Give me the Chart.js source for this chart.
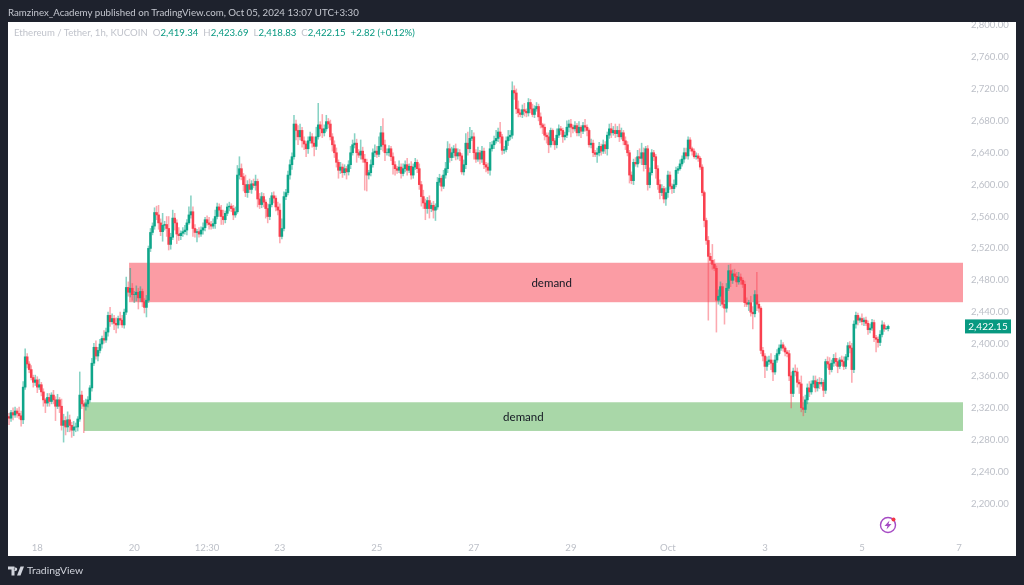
<!DOCTYPE html>
<html><head><meta charset="utf-8">
<script src="https://cdn.jsdelivr.net/npm/chart.js@4"></script>
<style>
html,body{margin:0;padding:0;width:1024px;height:585px;overflow:hidden;background:#1e222d}
canvas{position:absolute;left:0;top:0}
.t{position:absolute;white-space:nowrap;font-family:Lato,sans-serif}
#pub{left:8px;top:6px;font-size:9.7px;color:#c4c7cf}
#leg{left:14px;top:27px;font-size:9.6px;color:#c0c3cb}
#leg b{font-weight:400;color:#089981}
#leg i{font-style:normal;margin-left:5px}
#brand{left:27px;top:564px;font-size:10.4px;color:#d1d4dc}
svg{position:absolute}
</style></head><body>
<canvas id="c" width="1024" height="585"></canvas>
<div class="t" id="pub">Ramzinex_Academy published on TradingView.com, Oct 05, 2024 13:07 UTC+3:30</div>
<div class="t" id="leg">Ethereum / Tether, 1h, KUCOIN<i>O</i><b>2,419.34</b><i>H</i><b>2,423.69</b><i>L</i><b>2,418.83</b><i>C</i><b>2,422.15</b><i></i><b>+2.82 (+0.12%)</b></div>
<svg style="left:8px;top:566px" width="16" height="10" viewBox="0 0 32 20"><path fill="#d1d4dc" d="M0 1h13v18H7V7H0zM25 1h7l-7 18h-7zM15 3a3.4 3.4 0 1 0 .01 0z"/></svg>
<div class="t" id="brand">TradingView</div>
<svg style="left:878px;top:515px" width="20" height="20" viewBox="0 0 20 20"><circle cx="10" cy="10" r="7.5" fill="none" stroke="#a64bc4" stroke-width="1.4"/><path fill="#a64bc4" d="M11.5 5.5 6.5 11h3l-1 3.6L13.5 9h-3z"/><circle cx="15.5" cy="4.5" r="2" fill="#f23645"/></svg>
<script>
const closes = [
2307,2314,2311,2316,2313,2310,2305,2346,2384,2375,2368,2358,2352,2355,2346,2349,2340,2330,2326,2333,
2328,2336,2330,2322,2330,2322,2298,2304,2296,2305,2298,2292,2296,2296,2306,2336,2325,2322,2325,2330,
2345,2376,2396,2385,2392,2400,2407,2405,2415,2436,2428,2432,2426,2424,2432,2430,2424,2440,2471,2465,
2470,2462,2462,2465,2458,2466,2453,2446,2455,2520,2540,2548,2565,2562,2552,2541,2549,2550,2545,2525,
2534,2558,2552,2538,2536,2539,2541,2543,2552,2562,2566,2545,2540,2541,2538,2543,2546,2556,2552,2550,
2548,2551,2560,2572,2568,2560,2556,2564,2572,2573,2570,2562,2566,2612,2620,2610,2600,2590,2600,2594,
2601,2599,2604,2582,2575,2585,2578,2570,2560,2575,2586,2583,2572,2568,2535,2545,2585,2590,2612,2625,
2635,2676,2668,2660,2668,2655,2651,2645,2655,2660,2652,2648,2660,2675,2670,2665,2670,2679,2676,2660,
2650,2640,2628,2618,2622,2615,2620,2616,2625,2640,2650,2652,2640,2637,2642,2632,2628,2612,2615,2625,
2640,2642,2638,2648,2665,2650,2640,2640,2645,2635,2625,2620,2618,2622,2614,2620,2625,2618,2623,2612,
2622,2628,2620,2600,2585,2577,2570,2580,2570,2574,2568,2572,2603,2608,2598,2612,2620,2645,2634,2640,
2645,2636,2640,2636,2616,2625,2652,2645,2658,2660,2640,2632,2640,2632,2642,2625,2622,2618,2645,2650,
2655,2658,2666,2660,2643,2644,2655,2660,2662,2718,2715,2695,2690,2688,2694,2692,2690,2703,2695,2688,
2695,2698,2685,2675,2672,2662,2660,2650,2668,2655,2650,2662,2670,2668,2660,2662,2672,2676,2672,2670,
2674,2665,2672,2667,2674,2672,2668,2650,2652,2640,2638,2640,2648,2642,2650,2645,2662,2670,2665,2668,
2664,2668,2660,2665,2655,2650,2640,2612,2605,2628,2626,2635,2633,2640,2625,2645,2600,2615,2640,2635,
2620,2600,2590,2595,2582,2590,2612,2598,2595,2600,2618,2620,2626,2632,2640,2636,2656,2645,2642,2635,
2636,2633,2622,2590,2555,2530,2510,2505,2500,2495,2455,2460,2472,2450,2445,2470,2492,2480,2488,2485,
2478,2484,2480,2475,2452,2450,2452,2440,2438,2462,2450,2445,2392,2385,2372,2378,2380,2376,2365,2380,
2388,2395,2399,2395,2390,2388,2360,2338,2366,2365,2352,2350,2320,2318,2330,2345,2340,2350,2354,2345,
2352,2350,2352,2342,2378,2375,2368,2376,2382,2378,2372,2380,2378,2372,2384,2398,2395,2368,2425,2436,
2430,2432,2428,2430,2426,2418,2420,2427,2408,2406,2402,2412,2424,2419,2419.34,2422.15];
const upperWicks = [
4,3,6,5,3,8,6,7,10,4,3,5,3,6,4,7,3,4,2,5,
5,3,6,4,7,3,9,8,5,10,6,4,7,5,3,29,5,4,6,4,
3,6,5,8,4,6,3,10,5,4,10,6,4,7,3,8,6,4,13,7,
25,6,4,8,5,6,3,4,6,3,5,4,6,8,12,5,15,4,10,15,
5,10,6,4,8,3,5,6,4,10,20,6,5,3,5,4,6,3,5,7,
4,6,8,5,4,6,8,3,4,5,3,4,6,12,15,6,4,12,5,7,
4,6,8,3,7,5,4,3,6,8,4,5,3,6,8,12,6,4,5,6,
5,11,5,6,8,4,5,3,5,6,4,8,12,27,4,18,5,8,4,5,
4,5,6,3,6,4,5,3,5,8,6,12,5,4,14,5,6,4,3,6,
5,8,6,12,8,18,6,5,4,3,5,4,3,8,4,6,5,8,3,6,
4,5,3,6,4,8,5,4,6,3,5,4,6,5,3,6,8,9,6,7,
4,6,5,4,3,6,12,14,14,8,5,4,7,3,6,4,3,5,8,4,
6,10,5,12,3,4,5,8,6,11,6,5,10,4,6,8,3,5,4,6,
4,5,3,5,2,4,3,5,3,2,3,8,5,3,3,4,8,5,6,3,
5,3,7,2,4,8,3,2,5,4,3,6,5,3,6,4,4,6,7,5,
8,5,8,6,3,5,4,3,4,4,6,8,10,12,6,3,4,6,4,3,
3,4,6,5,3,6,5,4,3,6,4,3,5,4,6,6,4,3,2,3,
4,3,2,3,2,3,5,4,20,6,3,8,6,4,5,6,7,8,5,6,
5,6,4,3,4,6,3,8,7,5,28,3,2,4,3,6,5,8,4,6,
5,4,6,3,2,2,4,5,4,8,5,3,10,14,6,5,8,4,6,6,
4,6,5,3,3,6,8,4,5,7,4,3,5,6,3,4,5,6,4,4,
3,2,6,3,4,3,5,4,3,3,3,5,5,3,3,1.54];
const lowerWicks = [
8,4,6,3,5,4,8,5,3,5,4,3,6,4,7,3,5,8,12,4,
6,3,5,18,3,8,6,21,10,6,8,9,7,6,5,3,6,33,5,4,
3,4,3,4,6,3,5,4,3,5,6,3,8,10,4,6,3,4,3,5,
6,7,10,8,14,5,6,7,12,3,4,3,4,6,8,5,12,6,10,7,
6,3,9,12,6,5,4,3,6,2,4,10,6,12,4,3,5,4,3,6,
4,3,6,3,8,10,6,4,3,5,4,6,3,2,5,4,8,5,6,4,
5,3,6,10,5,4,6,12,8,4,3,6,5,6,8,3,3,4,3,5,
6,3,12,10,4,8,7,10,6,3,5,12,4,3,9,6,4,3,5,4,
8,6,6,10,4,6,3,9,4,5,3,4,12,3,5,4,35,20,5,4,
3,5,4,3,4,8,10,3,4,5,12,8,4,3,6,3,4,6,3,5,
4,3,5,6,12,7,14,6,12,4,10,13,3,4,6,3,4,5,6,4,
6,5,4,6,3,4,5,8,5,3,8,4,3,6,4,5,6,4,6,3,
5,3,4,8,5,4,3,6,4,4,8,6,5,3,4,6,5,4,5,3,
4,3,5,4,8,6,8,10,3,5,6,4,3,5,7,4,3,6,12,5,
3,4,4,8,3,5,7,3,4,5,3,10,4,5,3,6,8,4,6,3,
5,4,6,3,5,6,4,10,4,5,3,4,6,8,8,5,7,4,3,5,
12,6,8,4,5,8,6,4,6,5,3,4,2,3,4,3,4,3,5,2,
3,4,3,4,8,5,80,4,6,3,40,5,12,4,20,5,3,8,4,5,
6,3,5,4,5,3,8,5,19,4,8,5,4,6,14,5,4,8,11,3,
3,2,3,4,5,4,6,18,4,5,6,12,5,8,4,5,6,3,4,5,
4,6,3,8,4,5,6,3,4,5,8,3,5,4,3,4,6,16,4,5,
6,3,4,5,3,6,4,3,5,16,6,4,3,3,.51,3];
const firstOpen = 2309;
const slotCount = 473;
const tickSlots = [14,62,98,134,182,230,278,326,374,422,470];
const tickTexts = ['18','20','12:30','23','25','27','29','Oct','3','5','7'];
const priceTicks = [2200,2240,2280,2320,2360,2400,2440,2480,2520,2560,2600,2640,2680,2720,2760,2800];
const zoneNames = ['demand','demand'];
const zoneTop = [2502,2327];
const zoneBottom = [2452.5,2291];
const zoneStartSlot = [59.4,37.1];
const zoneLabelSlot = [268.5,254.5];
const zoneFills = ['#fb9ca4','#a9d7a8'];
const lastPrice = 2422.15;
const UP='#0fa68a', DOWN='#f9404f', UPW='rgba(15,166,138,.5)', DOWNW='rgba(249,64,79,.45)';

const labels = Array.from({length:slotCount},(_,i)=>{const k=tickSlots.indexOf(i);return k>=0?tickTexts[k]:''});
const opens = closes.map((c,i)=>i?closes[i-1]:firstOpen);
const bodies = closes.map((c,i)=>[opens[i],c]);
const wicks = closes.map((c,i)=>[Math.min(opens[i],c)-lowerWicks[i],Math.max(opens[i],c)+upperWicks[i]]);
const fmt=v=>v.toLocaleString('en-US',{minimumFractionDigits:2,maximumFractionDigits:2});
const FONT='Lato,sans-serif';

const frame={id:'frame',
 beforeDraw(ch){const c=ch.ctx;c.fillStyle='#ffffff';c.fillRect(8,22,1008,534);},
 beforeDatasetsDraw(ch){const c=ch.ctx,x=ch.scales.x,y=ch.scales.y;
  zoneNames.forEach((n,i)=>{const l=x.getPixelForValue(zoneStartSlot[i]),t=y.getPixelForValue(zoneTop[i]),b=y.getPixelForValue(zoneBottom[i]);
   c.fillStyle=zoneFills[i];c.fillRect(l,t,ch.chartArea.right-l-1,b-t);
   c.fillStyle='#131722';c.font='11.5px '+FONT;c.textAlign='center';c.textBaseline='middle';
   c.fillText(n,x.getPixelForValue(zoneLabelSlot[i]),(t+b)/2+1);});
 },
 afterDraw(ch){const c=ch.ctx,y=ch.scales.y;
  c.fillStyle='#1e222d';c.fillRect(0,0,1024,22);
  const p=y.getPixelForValue(lastPrice);
  c.fillStyle='#089981';c.fillRect(965,p-7,46,14);
  c.fillStyle='#fff';c.font='10px '+FONT;c.textAlign='center';c.textBaseline='middle';
  c.fillText(fmt(lastPrice),988,p+.5);
 }};

new Chart(document.getElementById('c'),{
 type:'bar',
 data:{labels,datasets:[
  {label:'wick',data:wicks,barThickness:.9,grouped:false,order:2,
   backgroundColor:closes.map((c,i)=>c>=opens[i]?UPW:DOWNW)},
  {label:'body',data:bodies,barThickness:1.9,grouped:false,order:1,
   backgroundColor:closes.map((c,i)=>c>=opens[i]?UP:DOWN)}
 ]},
 plugins:[frame],
 options:{responsive:false,animation:false,devicePixelRatio:1,
  layout:{padding:{left:8,top:22,right:8,bottom:29}},
  plugins:{legend:{display:false},tooltip:{enabled:false},title:{display:false}},
  scales:{
   x:{grid:{display:false,drawTicks:false},border:{display:false},
    afterFit(s){s.height=23},
    ticks:{autoSkip:false,maxRotation:0,minRotation:0,padding:9,color:'#bdc0c8',font:{family:FONT,size:9.6},
     callback(v,i){return labels[i]}}},
   y:{position:'right',min:2163,max:2804,grid:{display:false,drawTicks:false},border:{display:false},
    afterFit(s){s.width=52},
    afterBuildTicks(s){s.ticks=priceTicks.map(value=>({value}))},
    ticks:{padding:7,color:'#bdc0c8',font:{family:FONT,size:9.6},callback:v=>fmt(v)}}
  }
 }
});
</script>
</body></html>
